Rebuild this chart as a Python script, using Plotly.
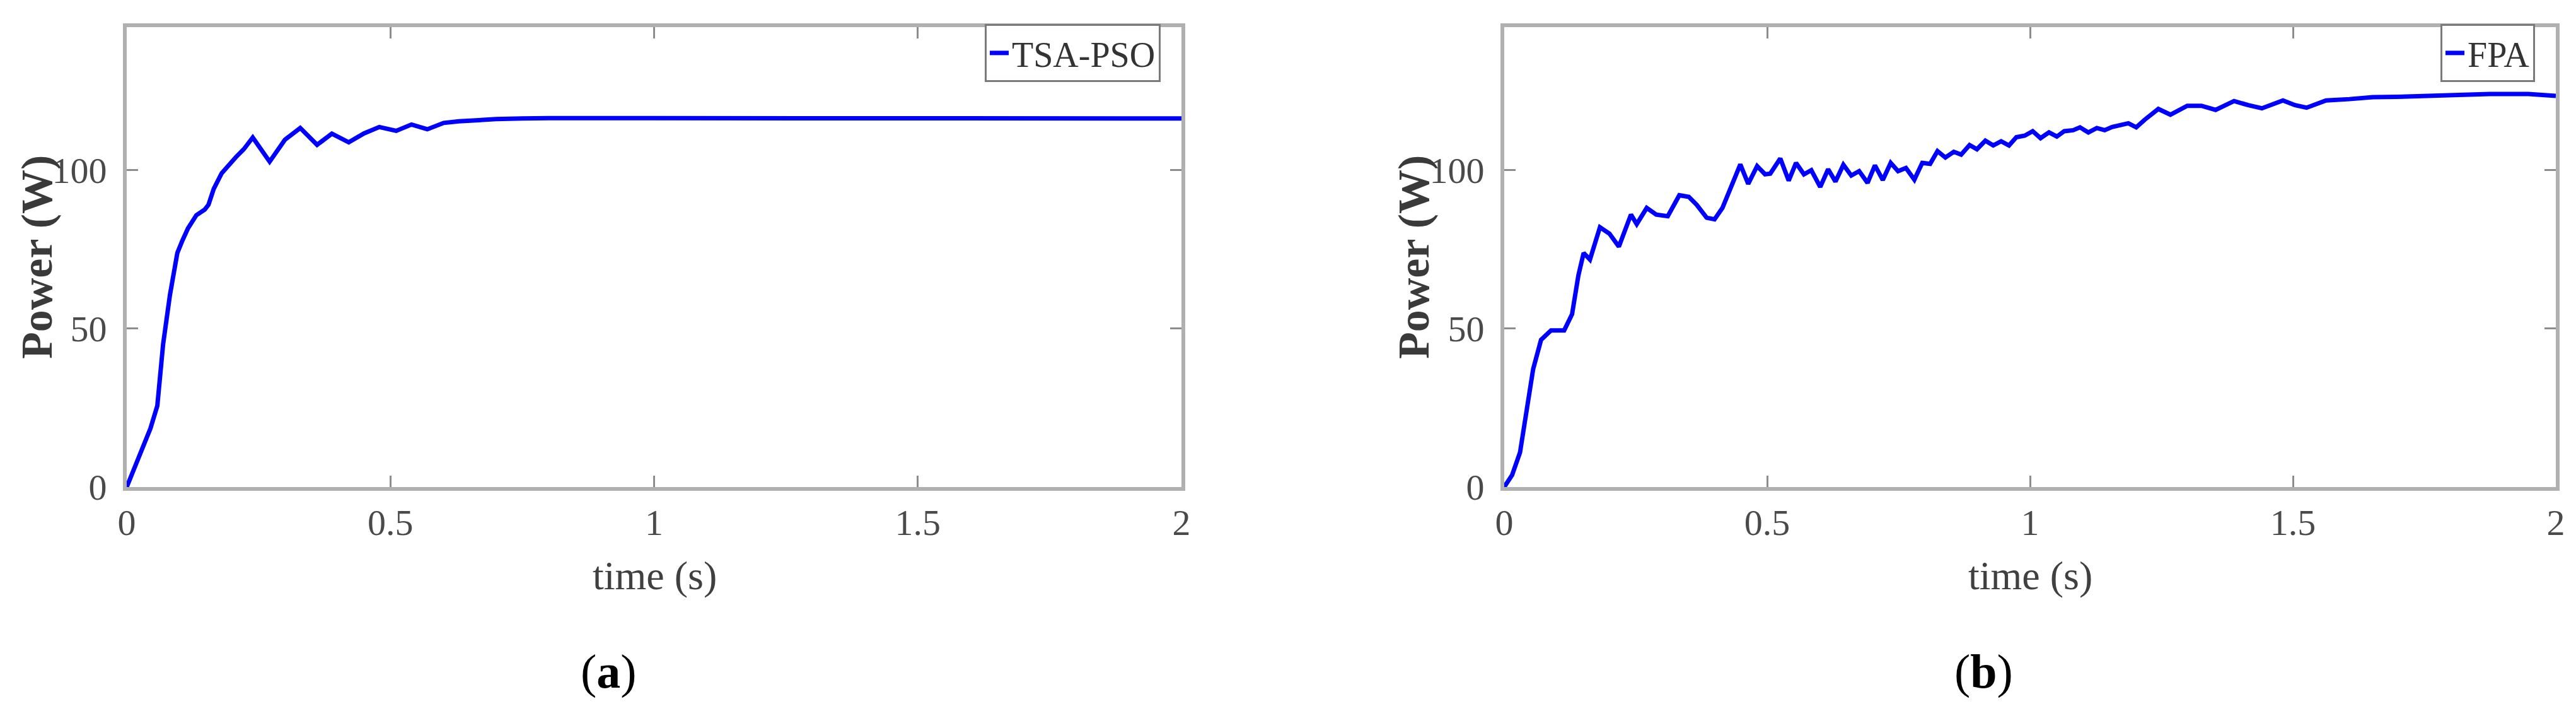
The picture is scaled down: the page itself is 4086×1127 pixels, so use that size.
import plotly.graph_objects as go

# TSA-PSO power response
tsa_t = [0, 0.027, 0.045, 0.058, 0.069, 0.082, 0.096, 0.105, 0.116, 0.132, 0.148,
         0.155, 0.165, 0.180, 0.195, 0.207, 0.222, 0.239, 0.271, 0.300, 0.329,
         0.361, 0.389, 0.421, 0.450, 0.479, 0.511, 0.540, 0.570, 0.601, 0.630,
         0.660, 0.700, 0.750, 0.800, 1.000, 1.500, 2.000]
tsa_p = [0, 10.9, 18.5, 25.6, 45.0, 60.6, 73.8, 77.5, 81.5, 85.7, 87.5,
         89.0, 94.0, 98.9, 102.0, 104.0, 106.5, 110.2, 102.6, 109.5, 113.2,
         107.9, 111.4, 108.7, 111.5, 113.5, 112.3, 114.3, 112.8, 114.8, 115.3,
         115.7, 116.0, 116.2, 116.3, 116.3, 116.2, 116.2]

# FPA power response
fpa_t = [0, 0.015, 0.030, 0.044, 0.055, 0.070, 0.089, 0.114, 0.129, 0.141, 0.151,
         0.163, 0.182, 0.200, 0.218, 0.241, 0.252, 0.271, 0.289, 0.311, 0.333,
         0.351, 0.366, 0.385, 0.400, 0.415, 0.430, 0.449, 0.464, 0.481, 0.496,
         0.506, 0.525, 0.541, 0.555, 0.570, 0.584, 0.601, 0.616, 0.630, 0.645,
         0.660, 0.675, 0.691, 0.705, 0.720, 0.735, 0.749, 0.764, 0.780, 0.795,
         0.810, 0.824, 0.839, 0.855, 0.869, 0.885, 0.899, 0.915, 0.930, 0.945,
         0.960, 0.974, 0.990, 1.005, 1.020, 1.036, 1.051, 1.065, 1.082, 1.095,
         1.111, 1.127, 1.142, 1.156, 1.172, 1.187, 1.202, 1.218, 1.244, 1.267,
         1.299, 1.326, 1.353, 1.388, 1.415, 1.441, 1.481, 1.504, 1.526, 1.563,
         1.607, 1.652, 1.696, 1.741, 1.800, 1.874, 1.948, 2.000]
fpa_p = [0, 3.8, 10.9, 25.0, 37.2, 46.4, 49.4, 49.4, 54.5, 66.7, 73.8,
         71.7, 81.9, 79.9, 75.8, 85.9, 82.9, 88.0, 85.9, 85.4, 92.0,
         91.5, 89.0, 84.9, 84.4, 88.0, 94.0, 101.7, 95.6, 101.2, 98.6,
         98.8, 103.6, 96.6, 102.2, 98.6, 99.9, 94.6, 100.2, 96.3, 101.6,
         98.2, 99.6, 95.9, 101.4, 96.8, 102.2, 99.6, 100.6, 96.9, 102.2,
         101.9, 105.9, 103.9, 105.7, 104.8, 107.8, 106.5, 109.2, 107.7, 109.0,
         107.7, 110.3, 110.8, 112.2, 110.0, 111.8, 110.5, 112.2, 112.5, 113.4,
         111.8, 113.2, 112.5, 113.5, 114.0, 114.7, 113.4, 115.8, 119.2, 117.4,
         120.2, 120.2, 118.9, 121.7, 120.4, 119.4, 121.9, 120.4, 119.6, 121.9,
         122.3, 122.9, 123.0, 123.3, 123.5, 123.9, 123.9, 123.3]

x_ticks = [0, 0.5, 1, 1.5, 2]
x_tick_text = ["0", "0.5", "1", "1.5", "2"]
y_ticks = [0, 50, 100]

W, H = 4086, 1127
SERIF = "Liberation Serif, Times New Roman, serif"
BLUE = "#0000ff"

fig = go.Figure()
fig.add_trace(go.Scatter(x=tsa_t, y=tsa_p, mode="lines", name="TSA-PSO",
                         line=dict(color=BLUE, width=7), xaxis="x", yaxis="y",
                         legend="legend"))
fig.add_trace(go.Scatter(x=fpa_t, y=fpa_p, mode="lines", name="FPA",
                         line=dict(color=BLUE, width=7), xaxis="x2", yaxis="y2",
                         legend="legend2"))

axis_common = dict(showline=True, linecolor="#b0b0b0", linewidth=6, mirror="ticks",
                   ticks="inside", ticklen=18, tickwidth=3, tickcolor="#8c8c8c",
                   showgrid=False, zeroline=False, automargin=False,
                   tickfont=dict(family=SERIF, size=58, color="#4a4a4a"))

y_dom = [363 / H, 1092 / H]
fig.update_layout(
    width=W, height=H,
    margin=dict(l=0, r=0, t=0, b=0),
    paper_bgcolor="white", plot_bgcolor="white",
    xaxis=dict(domain=[193 / W, 1866 / W], range=[0, 2], tickvals=x_ticks,
               ticktext=x_tick_text, anchor="y", **axis_common),
    yaxis=dict(domain=y_dom, range=[0, 145], tickvals=y_ticks, anchor="x",
               ticklabelstandoff=14, **axis_common),
    xaxis2=dict(domain=[2378 / W, 4046 / W], range=[0, 2], tickvals=x_ticks,
                ticktext=x_tick_text, anchor="y2", **axis_common),
    yaxis2=dict(domain=y_dom, range=[0, 145], tickvals=y_ticks, anchor="x2",
                ticklabelstandoff=14, **axis_common),
    legend=dict(x=1833 / W, y=(H - 30) / H, xanchor="right", yanchor="top",
                bgcolor="white", bordercolor="#7a7a7a", borderwidth=3,
                font=dict(family=SERIF, size=56, color="#333333")),
    legend2=dict(x=4013 / W, y=(H - 30) / H, xanchor="right", yanchor="top",
                 bgcolor="white", bordercolor="#7a7a7a", borderwidth=3,
                 font=dict(family=SERIF, size=56, color="#333333")),
    showlegend=True,
)

title_font = dict(family=SERIF, size=64, color="#404040")
ylab_font = dict(family=SERIF, size=70, color="#3a3a3a")
notes = [
    dict(x=50 / W, y=(H - 400) / H, text="<b>Power (W)</b>", textangle=-90, font=ylab_font),
    dict(x=2234 / W, y=(H - 400) / H, text="<b>Power (W)</b>", textangle=-90, font=ylab_font),
    dict(x=1030 / W, y=(H - 905) / H, text="time (s)", font=title_font),
    dict(x=3212 / W, y=(H - 905) / H, text="time (s)", font=title_font),
]
for n in notes:
    fig.add_annotation(xref="paper", yref="paper", showarrow=False,
                       xanchor="center", yanchor="middle", **n)

cap_font = dict(family=SERIF, size=76, color="black")
for cx, letter in [(957, "a"), (3138, "b")]:
    fig.add_annotation(x=cx / W, y=(H - 1056) / H, xref="paper", yref="paper",
                       xanchor="center", yanchor="middle",
                       text="(<b>%s</b>)" % letter, showarrow=False, font=cap_font)

fig.write_html("out.html")
